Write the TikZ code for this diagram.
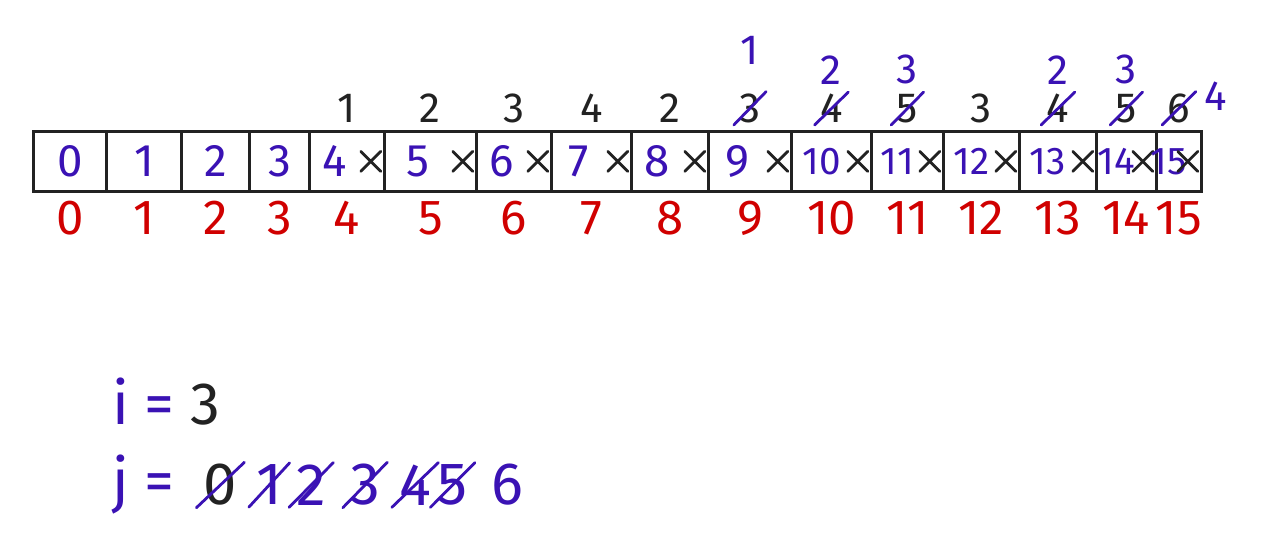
\documentclass[tikz,border=0pt]{standalone}
\usepackage{fontspec}
\setmainfont{Fira Sans}
\usetikzlibrary{positioning}
\definecolor{ink}{HTML}{3A12B4}
\definecolor{idx}{HTML}{D00000}
\definecolor{pen}{HTML}{222222}

\begin{document}
\begin{tikzpicture}[x=0.02cm,y=-0.02cm,
    cellbox/.style={draw=pen,line width=1.6pt,minimum height=1.2cm,inner sep=0pt},
    val/.style={text=ink,font=\fontsize{26}{26}\selectfont,inner sep=0pt},
    idxnum/.style={text=idx,font=\fontsize{28}{28}\selectfont},
    count/.style={text=pen,font=\fontsize{24}{24}\selectfont,inner sep=1pt},
    fix/.style={text=ink,font=\fontsize{24}{24}\selectfont,inner sep=1pt},
    varline/.style={font=\fontsize{34}{34}\selectfont,inner sep=1pt},
    strike/.style={draw=ink,line width=1.6pt,line cap=round},
    xmark/.style={draw=pen,line width=1.6pt,line cap=round}]
  \useasboundingbox (0,0) rectangle (1280,558);

  % the array, its values and its indices
  \foreach \n/\l/\r in {0/32/105,1/105/180,2/180/248,3/248/308,4/308/383,
      5/383/475,6/475/550,7/550/630,8/630/707,9/707/790,10/790/870,
      11/870/942,12/942/1018,13/1018/1095,14/1095/1155,15/1155/1200}{
    \node[cellbox,anchor=north west,minimum width={(\r-\l)*0.02cm}]
      (c\n) at (\l,130) {};
    \node[idxnum,below=0.05cm of c\n] (i\n) {\n};
  }
  \foreach \n in {0,...,3}
    \node[val] (v\n) at (c\n) {\n};
  \foreach \n in {4,...,15}{
    \ifnum\n>9
      \node[val,font=\fontsize{22}{22}\selectfont,xshift=-0.2cm] (v\n) at (c\n) {\n};
    \else
      \node[val,xshift=-0.25cm] (v\n) at (c\n) {\n};
    \fi
    \draw[xmark] ([xshift=-0.5cm,yshift=0.2cm]c\n.east) -- ++(0.4cm,-0.4cm)
      ([xshift=-0.5cm,yshift=-0.2cm]c\n.east) -- ++(0.4cm,0.4cm);
  }

  % counts above the cells
  \foreach \n/\k in {4/1,5/2,6/3,7/4,8/2,9/3,10/4,11/5,12/3,13/4,14/5,15/6}
    \node[count,above=0.1cm of c\n] (t\n) {\k};
  \foreach \n/\k in {10/2,11/3,13/2,14/3}{
    \draw[strike] ([xshift=-2pt]t\n.south west) -- ([xshift=2pt]t\n.north east);
    \node[fix,above=0.12cm of t\n] (u\n) {\k};
  }
  \draw[strike] ([xshift=-2pt]t9.south west) -- ([xshift=2pt]t9.north east);
  \node[fix,above=0.5cm of t9] (u9) {1};
  \draw[strike] ([xshift=-2pt]t15.south west) -- ([xshift=2pt]t15.north east);
  \node[fix,right=0.2cm of t15,yshift=0.25cm] (u15) {4};

  % the two counters
  \node[varline,anchor=west] (ivar) at (110,402)
    {\textcolor{ink}{i =} \textcolor{pen}{3}};
  \node[varline,anchor=west,text=ink] (jvar) at (110,485) {j =};
  \node[varline,text=pen,right=0.5cm of jvar] (j0) {0};
  \node[varline,text=ink,right=0.3cm of j0] (j1) {1};
  \node[varline,text=ink,right=0.2cm of j1] (j2) {2};
  \node[varline,text=ink,right=0.4cm of j2] (j3) {3};
  \node[varline,text=ink,right=0.3cm of j3] (j4) {4};
  \node[varline,text=ink,right=0.05cm of j4] (j5) {5};
  \node[varline,text=ink,right=0.4cm of j5] (j6) {6};
  \foreach \j in {0,...,5}
    \draw[strike] ([xshift=-3pt]j\j.south west) -- ([xshift=3pt]j\j.north east);
\end{tikzpicture}
\end{document}
